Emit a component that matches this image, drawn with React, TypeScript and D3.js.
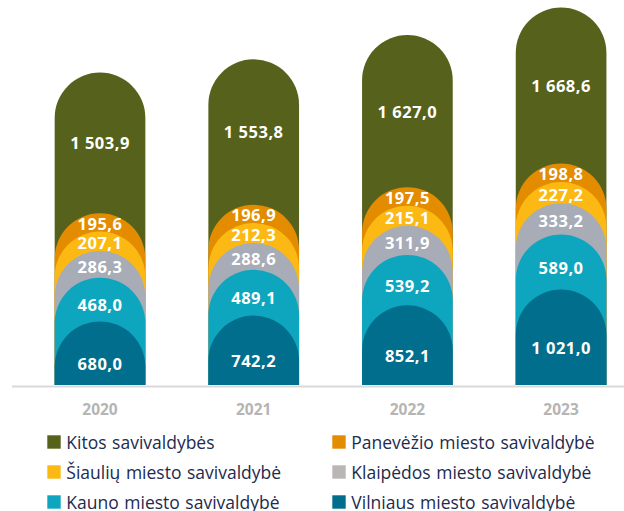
import React from "react";
import * as d3 from "d3";

const years = ["2020", "2021", "2022", "2023"];
const seriesNames = [
  "Vilniaus miesto savivaldybė",
  "Kauno miesto savivaldybė",
  "Klaipėdos miesto savivaldybė",
  "Šiaulių miesto savivaldybė",
  "Panevėžio miesto savivaldybė",
  "Kitos savivaldybės",
];
const vilnius = [680.0, 742.2, 852.1, 1021.0];
const kaunas = [468.0, 489.1, 539.2, 589.0];
const klaipeda = [286.3, 288.6, 311.9, 333.2];
const siauliai = [207.1, 212.3, 215.1, 227.2];
const panevezys = [195.6, 196.9, 197.5, 198.8];
const kitos = [1503.9, 1553.8, 1627.0, 1668.6];
const seriesValues = [vilnius, kaunas, klaipeda, siauliai, panevezys, kitos];

const barColors = ["#006e8c", "#0ea6be", "#a8acb7", "#fdb913", "#e38c00", "#56621b"];
const swatchColors = ["#006e8c", "#0ea6be", "#bbb6b6", "#fdb913", "#e38c00", "#56621b"];
const labelOffsets = [10, 5, 2, 1.5, 1, 0];

// legend layout order: rows of [left, right] series indices
const legendRows = [
  [5, 4],
  [3, 2],
  [1, 0],
];

const fmt = (v: number) => {
  const s = v.toFixed(1).replace(".", ",");
  const [int, dec] = s.split(",");
  const intS = int.replace(/\B(?=(\d{3})+(?!\d))/g, " ");
  return intS + "," + dec;
};

export default function App() {
  const W = 624;
  const H = 511;
  const baseY = 385;
  const x = d3
    .scaleBand<string>()
    .domain(years)
    .range([39.3, 621.8])
    .paddingInner(0.41)
    .paddingOuter(0.1);
  const y = d3.scaleLinear().domain([0, 4100]).range([baseY, baseY - 4100 * 0.0935]);
  const bw = x.bandwidth();
  const r = bw / 2;

  const bars: React.ReactNode[] = [];
  const labels: React.ReactNode[] = [];
  years.forEach((yr, i) => {
    const x0 = x(yr)!;
    const x1 = x0 + bw;
    const cx = x0 + r;
    const cums: number[] = [];
    let c = 0;
    seriesValues.forEach((s) => {
      c += s[i];
      cums.push(c);
    });
    for (let k = seriesValues.length - 1; k >= 0; k--) {
      const top = y(cums[k]);
      const p = d3.path();
      p.moveTo(x0, baseY);
      p.lineTo(x0, top + r);
      p.arc(cx, top + r, r, Math.PI, 0, false);
      p.lineTo(x1, baseY);
      p.closePath();
      bars.push(<path key={`b-${yr}-${k}`} d={p.toString()} fill={barColors[k]} />);
    }
    seriesValues.forEach((s, k) => {
      const prev = k === 0 ? baseY : y(cums[k - 1]);
      const top = y(cums[k]);
      const ly = (prev + top) / 2 + labelOffsets[k];
      labels.push(
        <text
          key={`l-${yr}-${k}`}
          x={cx}
          y={ly}
          textAnchor="middle"
          dominantBaseline="central"
          fill="#ffffff"
          fontFamily="'Open Sans', sans-serif"
          fontWeight={700}
          fontSize={16.5}
          letterSpacing={0.5}
        >
          {fmt(s[i])}
        </text>
      );
    });
  });

  return (
    <svg
      width={W}
      height={H}
      style={{ position: "absolute", left: 0, top: 0 }}
      xmlns="http://www.w3.org/2000/svg"
    >
      <rect width={W} height={H} fill="#ffffff" />
      {bars}
      {labels}
      <line x1={12} x2={W} y1={baseY + 1.5} y2={baseY + 1.5} stroke="#d9d9d9" strokeWidth={2} />
      {years.map((yr) => (
        <text
          key={`y-${yr}`}
          x={x(yr)! + r}
          y={408.5}
          textAnchor="middle"
          dominantBaseline="central"
          fill="#b5b5b5"
          fontFamily="'Open Sans', sans-serif"
          fontWeight={700}
          fontSize={15.5}
        >
          {yr}
        </text>
      ))}
      {legendRows.map((row, ri) =>
        row.map((si, ci) => {
          const lx = ci === 0 ? 47.3 : 332.3;
          const cy = 442 + ri * 30;
          return (
            <g key={`lg-${si}`}>
              <rect x={lx} y={cy - 6.7} width={13.4} height={13.4} fill={swatchColors[si]} />
              <text
                x={lx + 19}
                y={cy}
                dominantBaseline="central"
                fill="#1d2b4f"
                fontFamily="'Open Sans', sans-serif"
                fontSize={17.5}
                wordSpacing={1}
              >
                {seriesNames[si]}
              </text>
            </g>
          );
        })
      )}
    </svg>
  );
}
